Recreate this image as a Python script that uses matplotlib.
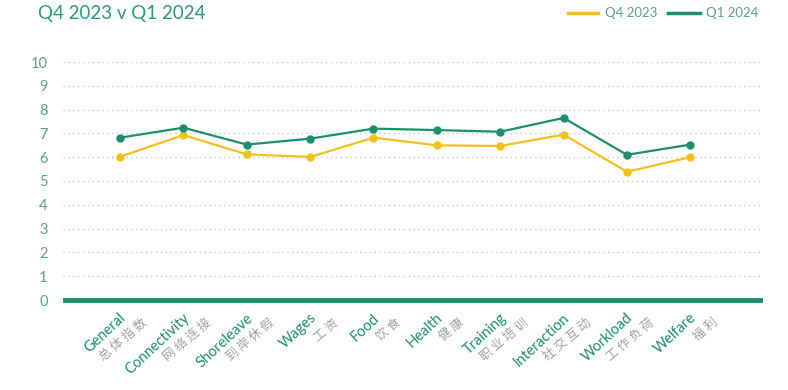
import matplotlib
matplotlib.use("Agg")
import matplotlib.pyplot as plt

categories = ["General", "Connectivity", "Shoreleave", "Wages", "Food",
              "Health", "Training", "Interaction", "Workload", "Welfare"]
categories_cn = ["总体指数", "网络连接", "到岸休假", "工资", "饮食",
                 "健康", "职业培训", "社交互动", "工作负荷", "福利"]
q4_2023 = [6.02, 6.93, 6.12, 6.01, 6.82, 6.50, 6.47, 6.95, 5.39, 6.00]
q1_2024 = [6.82, 7.24, 6.53, 6.78, 7.20, 7.14, 7.07, 7.65, 6.10, 6.53]
yticks = list(range(0, 11))

teal = "#1b8f6f"
yellow = "#f2c21b"
label_teal = "#5e9e8c"

plt.rcParams['font.family'] = ['Lato', 'Noto Sans CJK SC', 'DejaVu Sans']

fig = plt.figure(figsize=(7.88, 3.9), dpi=100)
ax = fig.add_axes([63/788, 1 - 300/390, 697/788, 238/390])

x = list(range(len(categories)))
ax.plot(x, q4_2023, color=yellow, lw=1.6, marker="o", ms=5, zorder=3)
ax.plot(x, q1_2024, color=teal, lw=1.6, marker="o", ms=5, zorder=4)

ax.set_xlim(-0.9, 10.1)
ax.set_ylim(0, 10)
ax.set_yticks(yticks)
ax.set_yticklabels([str(t) for t in yticks], color=label_teal, fontsize=10.5)
ax.tick_params(axis="y", length=0, pad=11)
ax.set_xticks([])
for s in ax.spines.values():
    s.set_visible(False)
for t in yticks[1:]:
    ax.axhline(t, color="#c8c8c8", lw=1, ls=(0, (1, 2.5)), zorder=1)
ax.axhline(0, color=teal, lw=3.5, zorder=2, clip_on=False,
           xmin=0.003, xmax=1)

# two line category labels, rotated
for i, (en, cn) in enumerate(zip(categories, categories_cn)):
    ax.annotate(en, xy=(i, 0), xycoords="data", xytext=(4, -16),
                textcoords="offset pixels", rotation=43, rotation_mode="anchor",
                ha="right", va="center", color=teal, fontsize=10.5)
    ax.annotate(" ".join(cn), xy=(i, 0), xycoords="data", xytext=(26, -21),
                textcoords="offset pixels", rotation=40, rotation_mode="anchor",
                ha="right", va="center", color="#a0a0a0", fontsize=9,
                family=['Noto Sans CJK SC', 'DejaVu Sans'])

fig.text(38/788, 1 - 13/390, "Q4 2023 v Q1 2024", color="#2a9a7a",
         fontsize=13.5, ha="left", va="center")

# legend drawn by hand at top right
fig.add_artist(plt.Line2D([568/788, 598/788], [1 - 13/390] * 2, color=yellow, lw=2.5))
fig.text(605/788, 1 - 13/390, "Q4 2023", color=label_teal, fontsize=9.5, va="center")
fig.add_artist(plt.Line2D([668/788, 700/788], [1 - 13/390] * 2, color=teal, lw=2.5))
fig.text(706/788, 1 - 13/390, "Q1 2024", color=label_teal, fontsize=9.5, va="center")

fig.savefig("out.png", dpi=100, facecolor="white")
